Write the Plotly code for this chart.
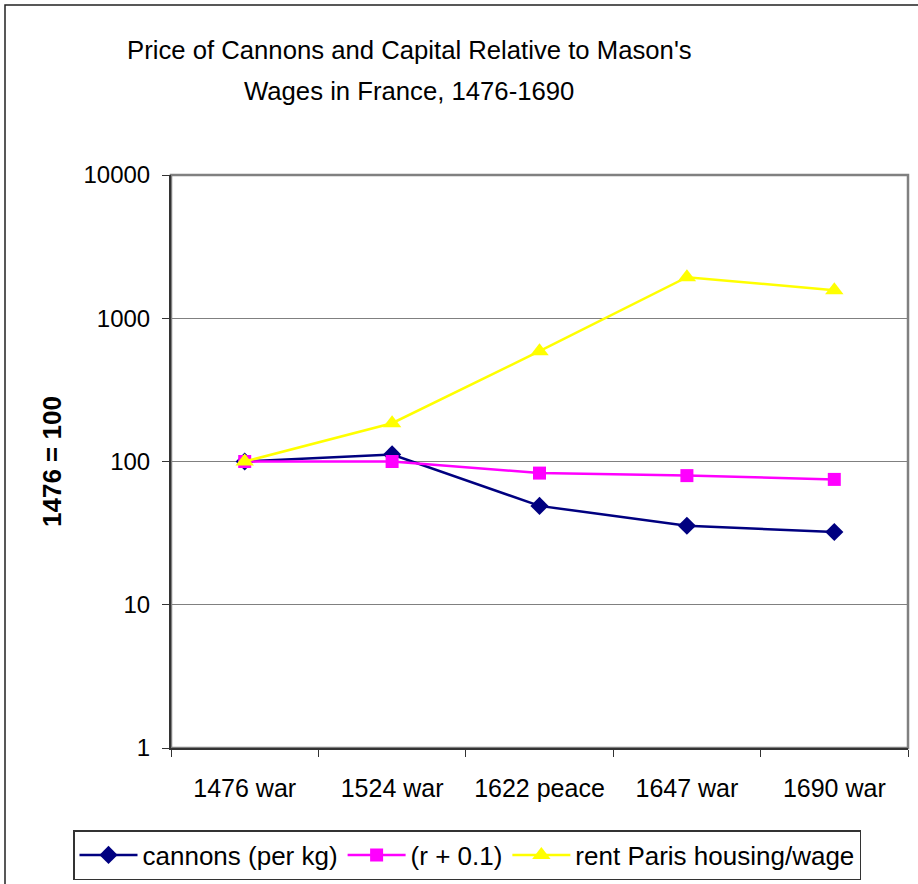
import plotly.graph_objects as go

categories = ["1476 war", "1524 war", "1622 peace", "1647 war", "1690 war"]
cannons = [100, 112, 49, 35.6, 32.2]
r_plus = [100, 100, 83, 79.7, 75]
rent = [100, 185, 589, 1935, 1567]
y_ticks = [1, 10, 100, 1000, 10000]
y_ticktext = ["1", "10", "100", "1000", "10000"]
title_lines = ["Price of Cannons and Capital Relative to Mason's", "Wages in France, 1476-1690"]

FONT = "Liberation Sans, Arial, sans-serif"

W, H = 918, 884
L, R, T, B = 171, 10, 175, 136
PW, PH = W - L - R, H - T - B

def px(x):
    return (x - L) / PW

def py(y):
    return (H - B - y) / PH

fig = go.Figure()
fig.add_trace(go.Scatter(x=categories, y=cannons, name="cannons (per kg)", mode="lines+markers",
                         line=dict(color="#000080", width=2.5),
                         marker=dict(symbol="diamond", size=14, color="#000080")))
fig.add_trace(go.Scatter(x=categories, y=r_plus, name="(r + 0.1)", mode="lines+markers",
                         line=dict(color="#FF00FF", width=2.5),
                         marker=dict(symbol="square", size=13, color="#FF00FF")))
fig.add_trace(go.Scatter(x=categories, y=rent, name="rent Paris housing/wage", mode="lines+markers",
                         line=dict(color="#FFFF00", width=2.5),
                         marker=dict(symbol="triangle-up", size=16, color="#FFFF00")))

fig.update_layout(
    width=W, height=H,
    paper_bgcolor="white", plot_bgcolor="white",
    margin=dict(l=L, r=R, t=T, b=B, autoexpand=False),
    font=dict(family=FONT, color="black", size=24),
    showlegend=True,
    legend=dict(orientation="h", x=px(73), xanchor="left", y=py(830), yanchor="top",
                bordercolor="#333333", borderwidth=1.5, font=dict(size=26, family=FONT),
                itemwidth=58, tracegroupgap=0),
    xaxis=dict(type="category", range=[-0.5, 4.5], tickson="boundaries", ticks="outside",
               ticklen=7, tickcolor="#333333", showgrid=False, showline=True,
               linecolor="#333333", linewidth=2, tickfont=dict(size=25), zeroline=False,
               ticklabelstandoff=17),
    yaxis=dict(type="log", range=[0, 4], tickvals=y_ticks, ticktext=y_ticktext,
               ticks="outside", ticklen=7, tickcolor="#333333", showgrid=True,
               gridcolor="#808080", gridwidth=1, showline=True, linecolor="#333333",
               linewidth=2, tickfont=dict(size=24), ticklabelstandoff=7),
)

fig.add_annotation(text="<b>1476 = 100</b>", xref="paper", yref="paper", x=px(52), y=py(462),
                   xanchor="center", yanchor="middle", textangle=-90, showarrow=False,
                   font=dict(size=26, family=FONT))
for i, line in enumerate(title_lines):
    fig.add_annotation(text=line, xref="paper", yref="paper", x=px(409), y=py(49.7 + 41 * i),
                       xanchor="center", yanchor="middle", showarrow=False,
                       font=dict(size=25.7, family=FONT))

# plot area border (gray) and outer chart border
fig.add_shape(type="rect", xref="paper", yref="paper", x0=0, x1=1, y0=0, y1=1,
              line=dict(color="#808080", width=2.5), layer="below")
fig.add_shape(type="rect", xref="paper", yref="paper",
              x0=px(5), x1=px(930), y0=py(900), y1=py(5),
              line=dict(color="#222222", width=1.5))

fig.write_html("out.html", config={"displayModeBar": False},
               post_script="document.body.style.margin='0';")
